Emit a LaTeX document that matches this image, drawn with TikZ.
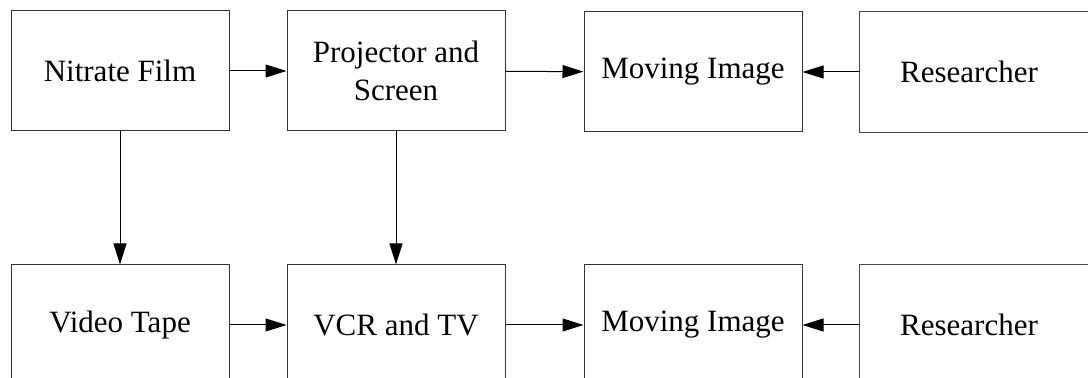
\documentclass[tikz,border=0pt]{standalone}
\usepackage{fontspec}
\setmainfont{Liberation Serif}
\usetikzlibrary{arrows.meta}

\begin{document}
\begin{tikzpicture}[x=0.5pt,y=-0.5pt]
\tikzstyle{stage}=[
  rectangle,
  draw=black!80,
  line width=0.5pt,
  minimum width=109pt,
  minimum height=60pt,
  inner sep=0pt,
  align=center,
  font=\fontsize{15.5}{19}\selectfont ]
\tikzstyle{stageopen}=[stage, draw=none]
\tikzstyle{flow}=[-{Triangle[length=10.5pt,width=6.5pt]}, draw=black, line width=0.5pt]
\clip (0,0) rectangle (1088,378);
% film row
\node[stage] (film) at (120,71) {Nitrate Film};
\node[stage] (proj) at (396,71) {Projector and\\Screen};
\node[stage] (img1) at (693,72) {Moving Image};
\node[stageopen] (res1) at (969,72) {Researcher};
\draw[black!70, line width=0.5pt] (res1.north west) rectangle ([xshift=20pt]res1.south east);
% video row
\node[stage] (tape) at (120,325) {Video Tape};
\node[stage] (vcr) at (396,325) {VCR and TV};
\node[stage] (img2) at (693,325) {Moving Image};
\node[stageopen] (res2) at (969,325) {Researcher};
\draw[black!70, line width=0.5pt] (res2.north west) rectangle ([xshift=20pt]res2.south east);
% connectors
\draw[flow] (film) -- (proj);
\draw[flow] (proj) -- (img1);
\draw[flow] (res1) -- (img1);
\draw[flow] (tape) -- (vcr);
\draw[flow] (vcr) -- (img2);
\draw[flow] (res2) -- (img2);
\draw[flow] (film) -- (tape);
\draw[flow] (proj) -- (vcr);
\end{tikzpicture}
\end{document}
